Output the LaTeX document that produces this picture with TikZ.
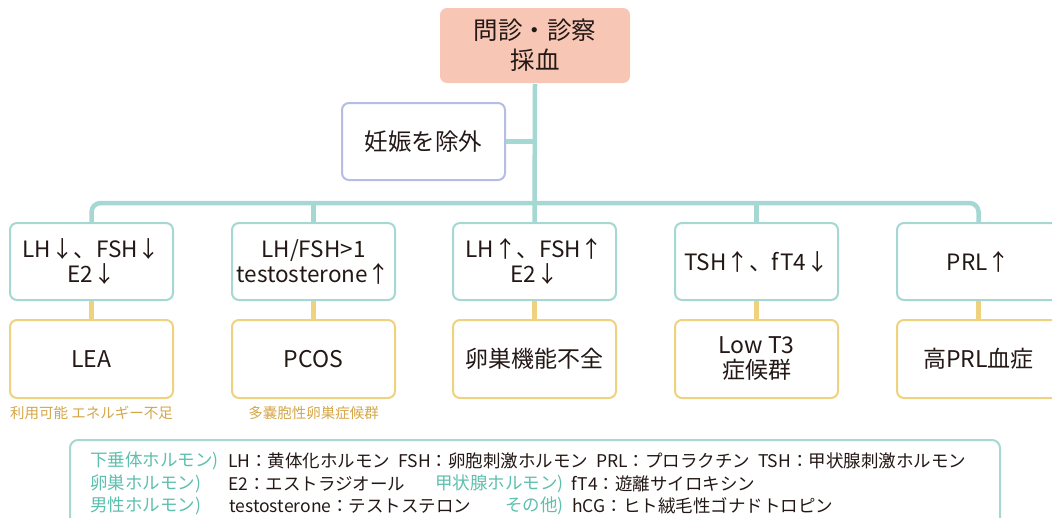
\documentclass[tikz,border=0pt]{standalone}
\usepackage{fontspec}
\setmainfont{Noto Sans CJK JP}
\definecolor{tealc}{HTML}{A5D8D3}
\definecolor{yelc}{HTML}{EFD27F}
\definecolor{lavc}{HTML}{B6BDE3}
\definecolor{salc}{HTML}{F7C6B5}
\definecolor{goldt}{HTML}{D4A64A}
\definecolor{tealt}{HTML}{5DBFAE}
\definecolor{inkc}{HTML}{231815}
\tikzset{
  boxbase/.style={rectangle, rounded corners=7pt, line width=2pt, align=center, text=inkc, inner sep=0pt},
  topbox/.style={boxbase, fill=salc, draw=none, minimum width=190pt, minimum height=75pt, font=\fontsize{24.5}{30}\selectfont},
  excbox/.style={boxbase, fill=white, draw=lavc, minimum width=163pt, minimum height=77pt, font=\fontsize{23.5}{28}\selectfont},
  upbox/.style={boxbase, fill=white, draw=tealc, minimum width=163pt, minimum height=77pt, font=\fontsize{22.5}{25}\selectfont},
  lowbox/.style={boxbase, fill=white, draw=yelc, minimum width=163pt, minimum height=78pt, font=\fontsize{23}{25}\selectfont},
  captext/.style={text=goldt, font=\fontsize{14.5}{17}\selectfont, inner sep=0pt},
  tline/.style={draw=tealc, line width=4.5pt},
  yline/.style={draw=yelc, line width=4.5pt},
  legk/.style={anchor=west, inner sep=0pt, text=tealt, font=\fontsize{17.5}{20}\selectfont},
  legv/.style={anchor=west, inner sep=0pt, text=inkc, font=\fontsize{17.5}{20}\selectfont}
}
\begin{document}
\begin{tikzpicture}[x=1pt,y=-1pt]
\useasboundingbox (0,0) rectangle (1052,517);
\clip (0,0) rectangle (1052,517);
% nodes
\node[topbox] (top) at (535,45.5) {問診・診察\\採血};
\node[excbox] (exc) at (423.5,141.5) {妊娠を除外};
\coordinate (bus) at (535,203);
\node[upbox] (u1) at (91.5,261.5) {LH↓、FSH↓\\E2↓};
\node[upbox] (u2) at (313.5,261.5) {LH/FSH>1\\testosterone↑};
\node[upbox] (u3) at (534.5,261.5) {LH↑、FSH↑\\E2↓};
\node[upbox] (u4) at (756.5,261.5) {TSH↑、fT4↓};
\node[upbox] (u5) at (978.5,261.5) {PRL↑};
\node[lowbox] (l1) at (91.5,359) {LEA};
\node[lowbox] (l2) at (313.5,359) {PCOS};
\node[lowbox] (l3) at (534.5,359) {卵巣機能不全};
\node[lowbox] (l4) at (756.5,359) {Low T3\\症候群};
\node[lowbox] (l5) at (978.5,359) {高PRL血症};
\node[captext] (c1) at (91.5,413) {利用可能 エネルギー不足};
\node[captext] (c2) at (313.5,413) {多嚢胞性卵巣症候群};
% connectors
\draw[tline] (top.south) -- (u3.north);
\draw[tline] (exc.east) -- (exc.east -| top.south);
\draw[tline, rounded corners=9pt] (u1.north) -- (u1.north |- bus) -- (u5.north |- bus) -- (u5.north);
\draw[tline] (u2.north) -- (u2.north |- bus);
\draw[tline] (u4.north) -- (u4.north |- bus);
\foreach \i in {1,...,5} { \draw[yline] (u\i.south) -- (l\i.north); }
% legend
\node[draw=tealc, line width=2pt, rounded corners=8pt, minimum width=930pt, minimum height=100pt, inner sep=0pt] (leg) at (535,490) {};
\node[legk] (k1) at (90,461) {下垂体ホルモン)};
\node[legv] (v1) at (228,461) {LH：黄体化ホルモン\ \ FSH：卵胞刺激ホルモン\ \ PRL：プロラクチン\ \ TSH：甲状腺刺激ホルモン};
\node[legk] (k2) at (90,484) {卵巣ホルモン)};
\node[legv] (v2) at (228,484) {E2：エストラジオール};
\node[legk] (k3) at (435,484) {甲状腺ホルモン)};
\node[legv] (v3) at (571,484) {fT4：遊離サイロキシン};
\node[legk] (k4) at (90,506) {男性ホルモン)};
\node[legv] (v4) at (229,506) {testosterone：テストステロン};
\node[legk] (k5) at (505,506) {その他)};
\node[legv] (v5) at (572,506) {hCG：ヒト絨毛性ゴナドトロピン};
\end{tikzpicture}
\end{document}
